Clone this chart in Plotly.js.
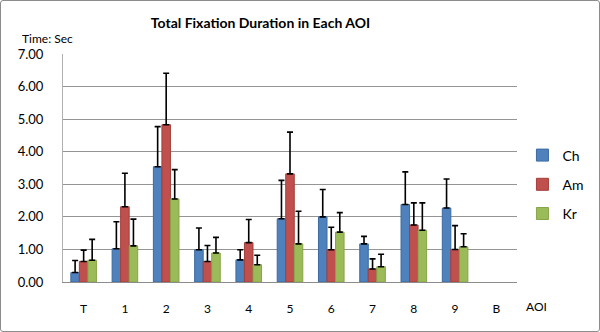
<!DOCTYPE html>
<html><head><meta charset="utf-8">
<script src="https://cdn.plot.ly/plotly-3.0.1.min.js"></script>
<style>
html,body{margin:0;padding:0;background:#fff;}
#wrap{position:relative;width:600px;height:332px;}
#frame{position:absolute;left:0;top:0;width:598px;height:330px;border:1px solid #8c8c8c;border-radius:3px;pointer-events:none;}
</style></head>
<body><div id="wrap"><div id="chart" style="width:600px;height:332px;"></div><div id="frame"></div></div>
<script>
const categories = ['T','1','2','3','4','5','6','7','8','9','B'];
const chValues = [0.29, 1.02, 3.54, 0.99, 0.68, 1.94, 2.00, 1.17, 2.38, 2.27, null];
const chUpper  = [0.66, 1.85, 4.77, 1.66, 0.99, 3.12, 2.84, 1.40, 3.38, 3.16, null];
const amValues = [0.63, 2.31, 4.83, 0.63, 1.21, 3.32, 0.99, 0.40, 1.75, 1.00, null];
const amUpper  = [0.98, 3.34, 6.41, 1.12, 1.92, 4.60, 1.68, 0.71, 2.43, 1.73, null];
const krValues = [0.67, 1.11, 2.55, 0.89, 0.53, 1.17, 1.53, 0.47, 1.59, 1.08, null];
const krUpper  = [1.31, 1.93, 3.45, 1.37, 0.82, 2.17, 2.13, 0.85, 2.43, 1.48, null];
const yTicks = [0, 1, 2, 3, 4, 5, 6, 7];
const yTickLabels = ['0.00','1.00','2.00','3.00','4.00','5.00','6.00','7.00'];

function diff(up, v){ return up.map((u,i)=> (u==null||v[i]==null)? null : +(u - v[i]).toFixed(3)); }
function zeros(v){ return v.map(()=>0); }

const FONT = 'Lato, "Open Sans", sans-serif';
function mk(name, vals, upper, fill, line, grp){
  return {
    type:'bar', name:name, x:categories, y:vals, legendgroup:grp,
    marker:{color:fill, line:{color:line, width:1}},
    error_y:{type:'data', symmetric:false, array:diff(upper, vals), arrayminus:zeros(vals),
             color:'#000', thickness:1.6, width:3},
    hoverinfo:'x+y'
  };
}
const data = [
  mk('Ch', chValues, chUpper, '#4F81BD', '#3A6AA3', 'a'),
  mk('Am', amValues, amUpper, '#C0504D', '#A33E3B', 'b'),
  mk('Kr', krValues, krUpper, '#9BBB59', '#86A548', 'c')
];
const layout = {
  width:600, height:332,
  margin:{l:63, r:74, t:54, b:50},
  paper_bgcolor:'#fff', plot_bgcolor:'#fff',
  font:{family:FONT, size:12, color:'#000'},
  barmode:'group', bargap:0.38, bargroupgap:0,
  title:{text:'Total Fixation Duration in Each AOI', font:{family:FONT, size:14, color:'#000', weight:'bold'},
         x:261/600, xanchor:'center', xref:'paper', y:1-23/332, yanchor:'middle'},
  xaxis:{type:'category', tickvals:categories, ticktext:categories, showgrid:false,
         showline:true, linecolor:'#8c8c8c', linewidth:1, ticks:'', ticklabelstandoff:16,
         tickfont:{family:FONT, size:12}, range:[-0.5, 10.5], fixedrange:true},
  yaxis:{range:[0,7], tickvals:yTicks, ticktext:yTickLabels, showgrid:true, gridcolor:'#959595',
         gridwidth:1, showline:true, linecolor:'#b0b0b0', linewidth:1, zeroline:false,
         ticks:'', ticklabelstandoff:16, tickfont:{family:FONT, size:13}, fixedrange:true},
  legend:{x:1.012, xanchor:'left', y:(282-184.5)/228, yanchor:'middle', font:{family:FONT, size:14},
          tracegroupgap:8, bgcolor:'rgba(0,0,0,0)', itemwidth:30},
  annotations:[
    {text:'Time: Sec', xref:'paper', yref:'paper', x:-63/463+19/463, xanchor:'left',
     y:(282-38)/228, yanchor:'middle', showarrow:false, font:{family:FONT, size:12}},
    {text:'AOI', xref:'paper', yref:'paper', x:(546-63)/463, xanchor:'center',
     y:(282-306)/228, yanchor:'middle', showarrow:false, font:{family:FONT, size:12}}
  ]
};
Plotly.newPlot('chart', data, layout, {staticPlot:true, displayModeBar:false});
</script></body></html>
